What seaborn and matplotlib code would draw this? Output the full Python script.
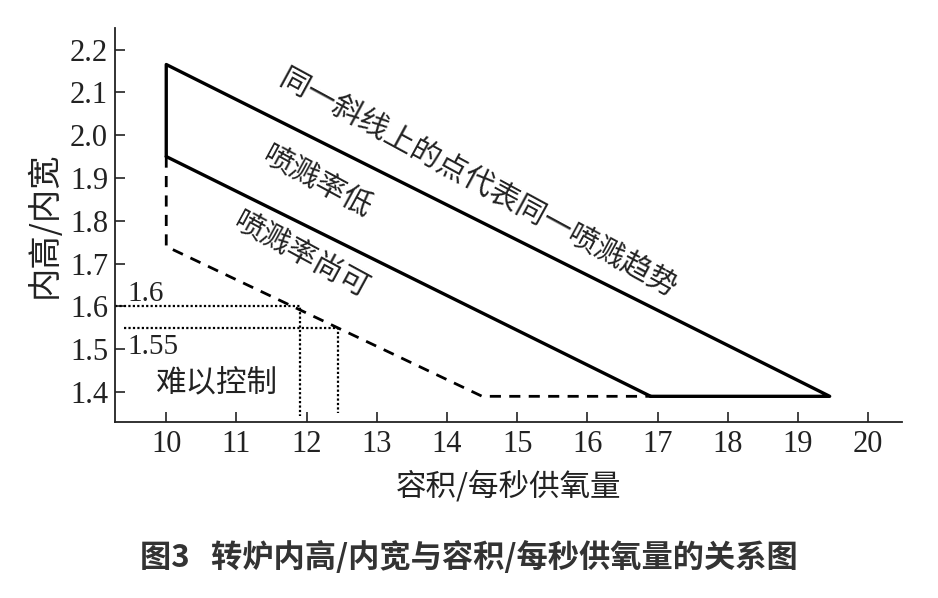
import numpy as np
import pandas as pd
import matplotlib
matplotlib.use("Agg")
import matplotlib.pyplot as plt
import seaborn as sns

# boundary lines (容积/每秒供氧量, 内高/内宽)
upper_x = [10, 10, 19.45, 16.9]
upper_y = [1.95, 2.165, 1.39, 1.39]
middle_x = [10, 16.9]
middle_y = [1.95, 1.39]
dashed_x = [10, 10, 14.5, 16.9]
dashed_y = [1.95, 1.74, 1.39, 1.39]
dot16_x = [9.27, 11.9, 11.9]
dot16_y = [1.6, 1.6, 1.345]
dot155_x = [9.4, 12.45, 12.45]
dot155_y = [1.55, 1.55, 1.35]

xticks = list(range(10, 21))
yticks = [1.4, 1.5, 1.6, 1.7, 1.8, 1.9, 2.0, 2.1, 2.2]

sns.set_theme(style="ticks")
serif = ['Liberation Serif', 'Noto Sans CJK SC']
cjk = ['Noto Sans CJK SC', 'DejaVu Sans']
plt.rcParams['font.family'] = serif

fig = plt.figure(figsize=(9.38, 5.98), dpi=100)
ax = fig.add_axes([0.1226, 0.2943, 0.839, 0.6587])

sns.lineplot(x=upper_x, y=upper_y, sort=False, estimator=None, color='black', lw=2.4, ax=ax)
sns.lineplot(x=middle_x, y=middle_y, sort=False, estimator=None, color='black', lw=2.4, ax=ax)
sns.lineplot(x=dashed_x, y=dashed_y, sort=False, estimator=None, color='black', lw=2.0,
             linestyle=(0, (4, 3)), ax=ax)
sns.lineplot(x=dot16_x, y=dot16_y, sort=False, estimator=None, color='black', lw=1.6,
             linestyle=(0, (1, 1)), ax=ax)
sns.lineplot(x=dot155_x, y=dot155_y, sort=False, estimator=None, color='black', lw=1.6,
             linestyle=(0, (1, 1)), ax=ax)

ax.set_xlim(9.27, 20.48)
ax.set_ylim(1.33, 2.25)
ax.set_xticks(xticks)
ax.set_yticks(yticks)
ax.set_yticklabels([f"{v:.1f}" for v in yticks])
ax.tick_params(direction='in', length=7, width=1.2, labelsize=22, colors='#222222')
ax.tick_params(axis='x', pad=6)
ax.tick_params(axis='y', pad=5)
sns.despine(ax=ax)
for s in ['left', 'bottom']:
    ax.spines[s].set_linewidth(1.3)
    ax.spines[s].set_color('#222222')

ax.set_xlabel('容积/每秒供氧量', family=cjk, fontsize=22, color='#222222', labelpad=8)
ax.set_ylabel('内高/内宽', family=cjk, fontsize=24, color='#222222', labelpad=6)

ax.text(9.45, 1.598, '1.6', fontsize=21, ha='left', va='bottom', color='#222222')
ax.text(9.45, 1.535, '1.55', fontsize=21, ha='left', va='top', color='#222222')
ax.text(10.71, 1.42, '难以控制', family=cjk, fontsize=22, ha='center', va='center', color='#222222')

ax.text(14.44, 1.886, '同一斜线上的点代表同一喷溅趋势', family=cjk, fontsize=21.5, rotation=-28.5,
        rotation_mode='anchor', ha='center', va='center', color='#222222')
ax.text(12.15, 1.891, '喷溅率低', family=cjk, fontsize=21.5, rotation=-28.5,
        rotation_mode='anchor', ha='center', va='center', color='#222222')
ax.text(11.93, 1.72, '喷溅率尚可', family=cjk, fontsize=21.5, rotation=-28.5,
        rotation_mode='anchor', ha='center', va='center', color='#222222')

fig.text(0.5, 0.068, '图3   转炉内高/内宽与容积/每秒供氧量的关系图', family=cjk, fontsize=22.5,
         fontweight='bold', ha='center', va='center', color='#333333')

fig.savefig('out.png', dpi=100)
